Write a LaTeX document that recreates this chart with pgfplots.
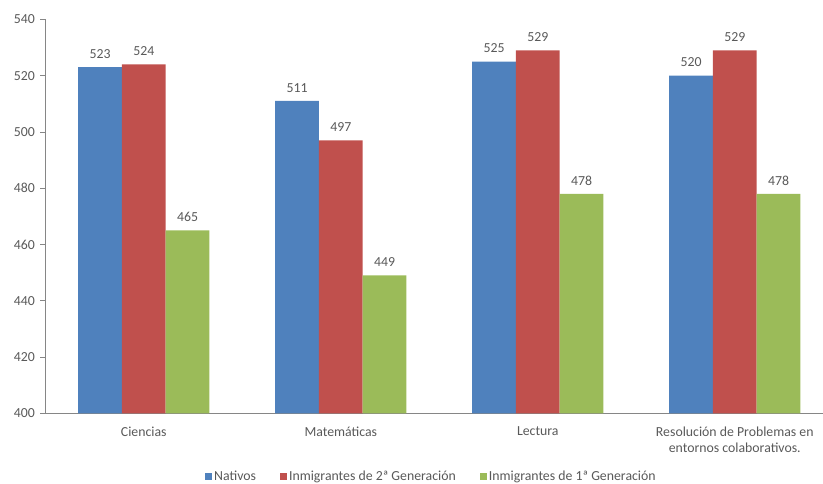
\documentclass[border=0pt]{standalone}
\usepackage{pgfplots}
\pgfplotsset{compat=1.18}
\usepackage{fontspec}
\setmainfont{Carlito}
\definecolor{cblue}{HTML}{4F81BD}
\definecolor{cred}{HTML}{C0504D}
\definecolor{cgreen}{HTML}{9BBB59}
\definecolor{tgray}{HTML}{595959}
\definecolor{agray}{HTML}{868686}
\begin{document}
\begin{tikzpicture}
\useasboundingbox (-45.3pt,-69.7pt) rectangle (777.7pt,413.3pt);
\begin{axis}[
  at={(0pt,0pt)}, anchor=south west,
  scale only axis, width=788pt, height=394pt,
  xmin=-0.5, xmax=3.5, ymin=400, ymax=540,
  ytick={400,420,...,540},
  xtick={0,1,2,3},
  xticklabels={Ciencias,Matemáticas,Lectura,{Resolución de Problemas en\\entornos colaborativos.}},
  xticklabel style={align=center, font=\fontsize{13.8}{16.5}\selectfont, text=tgray, yshift=-5pt},
  yticklabel style={font=\fontsize{13.8}{15}\selectfont, text=tgray, xshift=-2pt},
  /pgf/number format/assume math mode=true,
  axis x line*=bottom, axis y line*=left,
  axis line style={agray},
  x axis line style={-}, y axis line style={-},
  xtick style={draw=none},
  ytick style={agray, line width=0.6pt},
  tick align=outside, major tick length=5pt,
  ybar=0pt, bar width=43.7pt,
  nodes near coords,
  every node near coord/.append style={font=\fontsize{13.8}{15}\selectfont, text=tgray, yshift=5pt},
  legend style={at={(0.49,-0.16)}, anchor=center, draw=none, font=\fontsize{13.8}{15}\selectfont, text=tgray, legend columns=3, /tikz/every even column/.append style={column sep=22pt}},
  legend image code/.code={\fill[#1] (0pt,-3.5pt) rectangle (7pt,3.5pt);},
]
\addplot[fill=cblue, draw=none, bar shift=-43.7pt] coordinates {(0,523) (1,511) (2,525) (3,520)};
\addplot[fill=cred, draw=none, bar shift=0pt] coordinates {(0,524) (1,497) (2,529) (3,529)};
\addplot[fill=cgreen, draw=none, bar shift=43.7pt] coordinates {(0,465) (1,449) (2,478) (3,478)};
\legend{Nativos, Inmigrantes de 2ª Generación, Inmigrantes de 1ª Generación}
\end{axis}
\end{tikzpicture}
\end{document}
